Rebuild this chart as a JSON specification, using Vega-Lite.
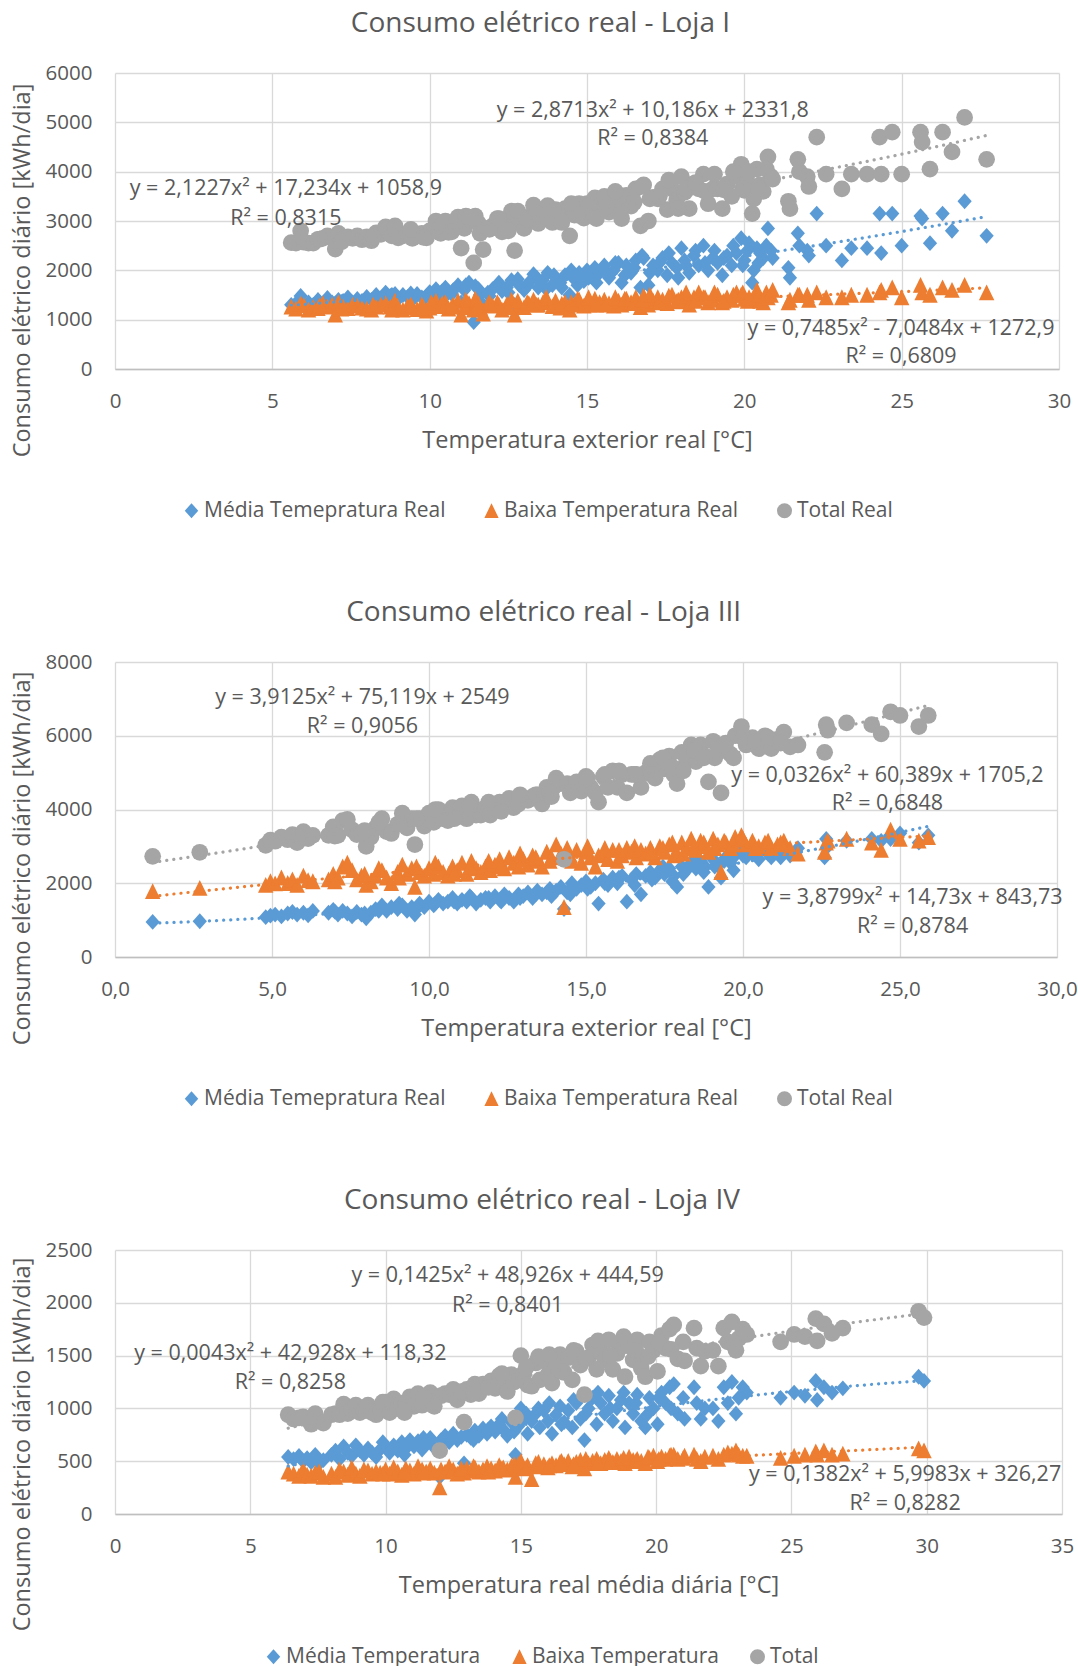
{
"$schema": "https://vega.github.io/schema/vega-lite/v6.json",
"background": "white",
"padding": {"left": 10, "top": 9, "right": 0, "bottom": 0},
"spacing": 293,
"bounds": "flush",
"datasets": {
"loja1": [
{"temp":5.6,"media":1300,"baixa":1260,"total":2560},{"temp":5.75,"media":1330,"baixa":1220,"total":2550},{"temp":5.9,"media":1480,"baixa":1320,"total":2800},{"temp":6.0,"media":1280,"baixa":1290,"total":2570},{"temp":6.15,"media":1350,"baixa":1200,"total":2550},{"temp":6.3,"media":1300,"baixa":1250,"total":2550},{"temp":6.45,"media":1400,"baixa":1230,"total":2630},{"temp":6.6,"media":1320,"baixa":1330,"total":2650},{"temp":6.75,"media":1440,"baixa":1260,"total":2700},{"temp":6.9,"media":1350,"baixa":1300,"total":2650},
{"temp":7.0,"media":1330,"baixa":1100,"total":2430},{"temp":7.1,"media":1400,"baixa":1350,"total":2750},{"temp":7.25,"media":1380,"baixa":1260,"total":2640},{"temp":7.4,"media":1450,"baixa":1230,"total":2680},{"temp":7.55,"media":1350,"baixa":1300,"total":2650},{"temp":7.7,"media":1420,"baixa":1280,"total":2700},{"temp":7.85,"media":1380,"baixa":1240,"total":2620},{"temp":8.0,"media":1460,"baixa":1220,"total":2680},{"temp":8.15,"media":1400,"baixa":1200,"total":2600},{"temp":8.3,"media":1500,"baixa":1260,"total":2760},
{"temp":8.45,"media":1430,"baixa":1300,"total":2730},{"temp":8.6,"media":1550,"baixa":1330,"total":2880},{"temp":8.75,"media":1480,"baixa":1260,"total":2740},{"temp":8.9,"media":1520,"baixa":1380,"total":2900},{"temp":9.0,"media":1420,"baixa":1240,"total":2660},{"temp":9.15,"media":1500,"baixa":1200,"total":2700},{"temp":9.3,"media":1460,"baixa":1280,"total":2740},{"temp":9.45,"media":1400,"baixa":1250,"total":2650},{"temp":9.6,"media":1520,"baixa":1210,"total":2730},{"temp":9.75,"media":1450,"baixa":1300,"total":2750},
{"temp":9.9,"media":1480,"baixa":1180,"total":2660},{"temp":10.0,"media":1560,"baixa":1240,"total":2800},{"temp":10.1,"media":1500,"baixa":1300,"total":2800},{"temp":10.2,"media":1620,"baixa":1380,"total":3000},{"temp":10.35,"media":1480,"baixa":1270,"total":2750},{"temp":10.5,"media":1650,"baixa":1350,"total":3000},{"temp":10.6,"media":1550,"baixa":1220,"total":2770},{"temp":10.75,"media":1600,"baixa":1300,"total":2900},{"temp":10.9,"media":1700,"baixa":1380,"total":3080},{"temp":11.0,"media":1350,"baixa":1100,"total":2450},
{"temp":11.1,"media":1600,"baixa":1250,"total":2850},{"temp":11.25,"media":1750,"baixa":1330,"total":3080},{"temp":11.4,"media":950,"baixa":1200,"total":2150},{"temp":11.45,"media":1680,"baixa":1420,"total":3100},{"temp":11.6,"media":1500,"baixa":1250,"total":2750},{"temp":11.7,"media":1300,"baixa":1120,"total":2420},{"temp":11.85,"media":1550,"baixa":1300,"total":2850},{"temp":12.0,"media":1620,"baixa":1280,"total":2900},{"temp":12.15,"media":1700,"baixa":1350,"total":3050},{"temp":12.3,"media":1580,"baixa":1200,"total":2780},
{"temp":12.45,"media":1650,"baixa":1310,"total":2960},{"temp":12.6,"media":1800,"baixa":1400,"total":3200},{"temp":12.7,"media":1300,"baixa":1100,"total":2400},{"temp":12.85,"media":1700,"baixa":1280,"total":2980},{"temp":13.0,"media":1600,"baixa":1250,"total":2850},{"temp":13.15,"media":1750,"baixa":1330,"total":3080},{"temp":13.3,"media":1920,"baixa":1400,"total":3320},{"temp":13.45,"media":1650,"baixa":1300,"total":2950},{"temp":13.6,"media":1800,"baixa":1350,"total":3150},{"temp":13.75,"media":1950,"baixa":1360,"total":3310},
{"temp":13.9,"media":1700,"baixa":1270,"total":2970},{"temp":14.0,"media":1850,"baixa":1380,"total":3230},{"temp":14.15,"media":1750,"baixa":1240,"total":2990},{"temp":14.3,"media":1900,"baixa":1350,"total":3250},{"temp":14.45,"media":1500,"baixa":1200,"total":2700},{"temp":14.6,"media":1820,"baixa":1300,"total":3120},{"temp":14.75,"media":1950,"baixa":1400,"total":3350},{"temp":14.9,"media":1780,"baixa":1280,"total":3060},{"temp":15.0,"media":2000,"baixa":1350,"total":3350},{"temp":15.1,"media":1880,"baixa":1300,"total":3180},
{"temp":15.25,"media":2050,"baixa":1420,"total":3470},{"temp":15.4,"media":1950,"baixa":1350,"total":3300},{"temp":15.55,"media":2100,"baixa":1400,"total":3500},{"temp":15.7,"media":1850,"baixa":1330,"total":3180},{"temp":15.85,"media":2000,"baixa":1280,"total":3280},{"temp":16.0,"media":2150,"baixa":1380,"total":3530},{"temp":16.1,"media":1750,"baixa":1300,"total":3050},{"temp":16.25,"media":2100,"baixa":1420,"total":3520},{"temp":16.4,"media":1950,"baixa":1350,"total":3300},{"temp":16.55,"media":2200,"baixa":1450,"total":3650},
{"temp":16.7,"media":1650,"baixa":1250,"total":2900},{"temp":16.8,"media":2250,"baixa":1480,"total":3730},{"temp":16.95,"media":1700,"baixa":1300,"total":3000},{"temp":17.1,"media":2100,"baixa":1380,"total":3480},{"temp":17.25,"media":2000,"baixa":1450,"total":3450},{"temp":17.4,"media":2250,"baixa":1400,"total":3650},{"temp":17.55,"media":1900,"baixa":1330,"total":3230},{"temp":17.7,"media":2150,"baixa":1500,"total":3650},{"temp":17.85,"media":2050,"baixa":1370,"total":3420},{"temp":18.0,"media":2450,"baixa":1450,"total":3900},
{"temp":18.1,"media":2200,"baixa":1380,"total":3580},{"temp":18.25,"media":1950,"baixa":1300,"total":3250},{"temp":18.4,"media":2300,"baixa":1450,"total":3750},{"temp":18.55,"media":2100,"baixa":1550,"total":3650},{"temp":18.7,"media":2500,"baixa":1450,"total":3950},{"temp":18.85,"media":2000,"baixa":1350,"total":3350},{"temp":19.0,"media":2250,"baixa":1400,"total":3650},{"temp":19.15,"media":2150,"baixa":1500,"total":3650},{"temp":19.3,"media":1900,"baixa":1350,"total":3250},{"temp":19.45,"media":2300,"baixa":1450,"total":3750},
{"temp":19.6,"media":2100,"baixa":1400,"total":3500},{"temp":19.75,"media":2350,"baixa":1550,"total":3900},{"temp":19.9,"media":2650,"baixa":1500,"total":4150},{"temp":20.0,"media":2200,"baixa":1420,"total":3620},{"temp":20.1,"media":2400,"baixa":1380,"total":3780},{"temp":20.25,"media":1750,"baixa":1400,"total":3150},{"temp":20.3,"media":2000,"baixa":1450,"total":3450},{"temp":20.4,"media":2450,"baixa":1600,"total":4050},{"temp":20.5,"media":2350,"baixa":1380,"total":3730},{"temp":20.6,"media":2250,"baixa":1350,"total":3600},
{"temp":20.75,"media":2850,"baixa":1450,"total":4300},{"temp":20.85,"media":2400,"baixa":1500,"total":3900},{"temp":21.4,"media":2050,"baixa":1350,"total":3400},{"temp":21.45,"media":1850,"baixa":1400,"total":3250},{"temp":21.7,"media":2750,"baixa":1500,"total":4250},{"temp":21.75,"media":2500,"baixa":1500,"total":4000},{"temp":22.0,"media":2400,"baixa":1500,"total":3900},{"temp":22.05,"media":2300,"baixa":1400,"total":3700},{"temp":22.3,"media":3150,"baixa":1550,"total":4700},{"temp":22.6,"media":2500,"baixa":1450,"total":3950},
{"temp":23.1,"media":2200,"baixa":1450,"total":3650},{"temp":23.4,"media":2450,"baixa":1500,"total":3950},{"temp":23.9,"media":2450,"baixa":1500,"total":3950},{"temp":24.3,"media":3150,"baixa":1550,"total":4700},{"temp":24.35,"media":2350,"baixa":1600,"total":3950},{"temp":24.7,"media":3150,"baixa":1650,"total":4800},{"temp":25.0,"media":2500,"baixa":1450,"total":3950},{"temp":25.6,"media":3100,"baixa":1700,"total":4800},{"temp":25.65,"media":3050,"baixa":1550,"total":4600},{"temp":25.9,"media":2550,"baixa":1500,"total":4050},
{"temp":26.3,"media":3150,"baixa":1650,"total":4800},{"temp":26.6,"media":2800,"baixa":1600,"total":4400},{"temp":27.0,"media":3400,"baixa":1700,"total":5100},{"temp":27.7,"media":2700,"baixa":1550,"total":4250},
{"temp":10.05,"media":1450,"baixa":1350,"total":2800},{"temp":10.4,"media":1580,"baixa":1330,"total":2910},{"temp":10.7,"media":1520,"baixa":1260,"total":2780},{"temp":11.15,"media":1700,"baixa":1400,"total":3100},{"temp":11.55,"media":1620,"baixa":1330,"total":2950},{"temp":11.9,"media":1480,"baixa":1350,"total":2830},{"temp":12.2,"media":1750,"baixa":1300,"total":3050},{"temp":12.5,"media":1550,"baixa":1250,"total":2800},{"temp":12.8,"media":1820,"baixa":1380,"total":3200},{"temp":13.1,"media":1680,"baixa":1350,"total":3030},
{"temp":13.4,"media":1850,"baixa":1300,"total":3150},{"temp":13.7,"media":1620,"baixa":1450,"total":3070},{"temp":13.95,"media":1900,"baixa":1300,"total":3200},{"temp":14.2,"media":1650,"baixa":1320,"total":2970},{"temp":14.5,"media":2000,"baixa":1350,"total":3350},{"temp":14.7,"media":1700,"baixa":1420,"total":3120},{"temp":15.05,"media":1850,"baixa":1450,"total":3300},{"temp":15.3,"media":1750,"baixa":1300,"total":3050},{"temp":15.6,"media":1980,"baixa":1300,"total":3280},{"temp":15.9,"media":2150,"baixa":1450,"total":3600},
{"temp":16.2,"media":1900,"baixa":1420,"total":3320},{"temp":16.5,"media":2050,"baixa":1330,"total":3380},{"temp":16.75,"media":2300,"baixa":1400,"total":3700},{"temp":17.0,"media":1950,"baixa":1500,"total":3450},{"temp":17.3,"media":2150,"baixa":1350,"total":3500},{"temp":17.6,"media":2350,"baixa":1480,"total":3830},{"temp":17.9,"media":1850,"baixa":1400,"total":3250},{"temp":18.15,"media":2100,"baixa":1550,"total":3650},{"temp":18.45,"media":2400,"baixa":1380,"total":3780},{"temp":18.75,"media":2150,"baixa":1450,"total":3600},
{"temp":19.05,"media":2400,"baixa":1550,"total":3950},{"temp":19.35,"media":2250,"baixa":1380,"total":3630},{"temp":19.65,"media":2500,"baixa":1500,"total":4000},{"temp":19.95,"media":2100,"baixa":1550,"total":3650},{"temp":20.15,"media":2550,"baixa":1450,"total":4000},{"temp":20.45,"media":2150,"baixa":1500,"total":3650},{"temp":20.7,"media":2500,"baixa":1550,"total":4050},{"temp":20.9,"media":2250,"baixa":1600,"total":3850},{"temp":8.2,"media":1380,"baixa":1300,"total":2680},{"temp":8.8,"media":1500,"baixa":1200,"total":2700},
{"temp":9.4,"media":1530,"baixa":1300,"total":2830},{"temp":9.8,"media":1420,"baixa":1250,"total":2670},{"temp":6.5,"media":1350,"baixa":1280,"total":2630},{"temp":7.2,"media":1360,"baixa":1220,"total":2580}
],
"loja3": [
{"temp":1.2,"media":950,"baixa":1780,"total":2730},{"temp":2.7,"media":970,"baixa":1870,"total":2840},{"temp":4.8,"media":1080,"baixa":1950,"total":3030},{"temp":4.95,"media":1120,"baixa":2050,"total":3170},{"temp":5.1,"media":1150,"baixa":1990,"total":3140},{"temp":5.3,"media":1100,"baixa":2150,"total":3250},{"temp":5.5,"media":1180,"baixa":2000,"total":3180},{"temp":5.65,"media":1220,"baixa":2100,"total":3320},{"temp":5.8,"media":1150,"baixa":1950,"total":3100},{"temp":6.0,"media":1200,"baixa":2200,"total":3400},
{"temp":6.15,"media":1130,"baixa":2080,"total":3210},{"temp":6.3,"media":1250,"baixa":2050,"total":3300},{"temp":6.8,"media":1200,"baixa":2100,"total":3300},{"temp":6.95,"media":1280,"baixa":2250,"total":3530},{"temp":7.1,"media":1150,"baixa":2150,"total":3300},{"temp":7.25,"media":1250,"baixa":2450,"total":3700},{"temp":7.4,"media":1180,"baixa":2550,"total":3730},{"temp":7.55,"media":1100,"baixa":2350,"total":3450},{"temp":7.7,"media":1220,"baixa":2100,"total":3320},{"temp":7.85,"media":1150,"baixa":2200,"total":3350},
{"temp":8.0,"media":1050,"baixa":1950,"total":3000},{"temp":8.15,"media":1200,"baixa":2050,"total":3250},{"temp":8.3,"media":1300,"baixa":2200,"total":3500},{"temp":8.5,"media":1400,"baixa":2350,"total":3750},{"temp":8.65,"media":1250,"baixa":2150,"total":3400},{"temp":8.8,"media":1350,"baixa":2000,"total":3350},{"temp":9.0,"media":1300,"baixa":2300,"total":3600},{"temp":9.15,"media":1400,"baixa":2500,"total":3900},{"temp":9.3,"media":1250,"baixa":2250,"total":3500},{"temp":9.45,"media":1350,"baixa":2400,"total":3750},
{"temp":9.55,"media":1150,"baixa":1900,"total":3050},{"temp":9.7,"media":1450,"baixa":2300,"total":3750},{"temp":9.85,"media":1350,"baixa":2200,"total":3550},{"temp":10.0,"media":1500,"baixa":2400,"total":3900},{"temp":10.15,"media":1400,"baixa":2250,"total":3650},{"temp":10.3,"media":1550,"baixa":2450,"total":4000},{"temp":10.45,"media":1450,"baixa":2300,"total":3750},{"temp":10.6,"media":1500,"baixa":2200,"total":3700},{"temp":10.75,"media":1600,"baixa":2450,"total":4050},{"temp":10.9,"media":1450,"baixa":2350,"total":3800},
{"temp":11.05,"media":1550,"baixa":2550,"total":4100},{"temp":11.2,"media":1500,"baixa":2250,"total":3750},{"temp":11.35,"media":1600,"baixa":2600,"total":4200},{"temp":11.5,"media":1450,"baixa":2400,"total":3850},{"temp":11.65,"media":1550,"baixa":2300,"total":3850},{"temp":11.8,"media":1600,"baixa":2450,"total":4050},{"temp":11.95,"media":1500,"baixa":2350,"total":3850},{"temp":12.1,"media":1650,"baixa":2500,"total":4150},{"temp":12.25,"media":1550,"baixa":2650,"total":4200},{"temp":12.4,"media":1700,"baixa":2400,"total":4100},
{"temp":12.55,"media":1600,"baixa":2700,"total":4300},{"temp":12.7,"media":1500,"baixa":2550,"total":4050},{"temp":12.85,"media":1700,"baixa":2450,"total":4150},{"temp":13.0,"media":1650,"baixa":2650,"total":4300},{"temp":13.15,"media":1750,"baixa":2500,"total":4250},{"temp":13.3,"media":1600,"baixa":2750,"total":4350},{"temp":13.45,"media":1800,"baixa":2600,"total":4400},{"temp":13.6,"media":1700,"baixa":2450,"total":4150},{"temp":13.75,"media":1750,"baixa":2850,"total":4600},{"temp":13.9,"media":1650,"baixa":2700,"total":4350},
{"temp":14.05,"media":1800,"baixa":3050,"total":4850},{"temp":14.2,"media":1900,"baixa":2800,"total":4700},{"temp":14.3,"media":1300,"baixa":1350,"total":2650},{"temp":14.4,"media":1750,"baixa":2950,"total":4700},{"temp":14.55,"media":2000,"baixa":2600,"total":4600},{"temp":14.7,"media":1850,"baixa":2900,"total":4750},{"temp":14.85,"media":1950,"baixa":2550,"total":4500},{"temp":15.0,"media":2050,"baixa":2850,"total":4900},{"temp":15.15,"media":1900,"baixa":2700,"total":4600},{"temp":15.3,"media":2000,"baixa":2450,"total":4450},
{"temp":15.4,"media":1450,"baixa":2750,"total":4200},{"temp":15.55,"media":2100,"baixa":2800,"total":4900},{"temp":15.7,"media":1950,"baixa":2650,"total":4600},{"temp":15.85,"media":2150,"baixa":2900,"total":5050},{"temp":16.0,"media":2000,"baixa":2600,"total":4600},{"temp":16.15,"media":2200,"baixa":2750,"total":4950},{"temp":16.3,"media":1500,"baixa":2950,"total":4450},{"temp":16.45,"media":2100,"baixa":2850,"total":4950},{"temp":16.6,"media":2250,"baixa":2700,"total":4950},{"temp":16.75,"media":1700,"baixa":2900,"total":4600},
{"temp":16.9,"media":2200,"baixa":2800,"total":5000},{"temp":17.05,"media":2300,"baixa":2950,"total":5250},{"temp":17.2,"media":2150,"baixa":2700,"total":4850},{"temp":17.35,"media":2350,"baixa":3000,"total":5350},{"temp":17.5,"media":2250,"baixa":2850,"total":5100},{"temp":17.65,"media":2400,"baixa":3050,"total":5450},{"temp":17.8,"media":2200,"baixa":2750,"total":4950},{"temp":17.9,"media":1900,"baixa":2800,"total":4700},{"temp":18.05,"media":2450,"baixa":3100,"total":5550},{"temp":18.2,"media":2350,"baixa":2950,"total":5300},
{"temp":18.35,"media":2550,"baixa":3200,"total":5750},{"temp":18.5,"media":2400,"baixa":2900,"total":5300},{"temp":18.65,"media":2600,"baixa":3150,"total":5750},{"temp":18.8,"media":2450,"baixa":3000,"total":5450},{"temp":18.9,"media":1900,"baixa":2850,"total":4750},{"temp":19.05,"media":2650,"baixa":3200,"total":5850},{"temp":19.2,"media":2500,"baixa":3050,"total":5550},{"temp":19.3,"media":2150,"baixa":2300,"total":4450},{"temp":19.45,"media":2700,"baixa":3100,"total":5800},{"temp":19.6,"media":2550,"baixa":2950,"total":5500},
{"temp":19.75,"media":2750,"baixa":3250,"total":6000},{"temp":19.95,"media":2950,"baixa":3300,"total":6250},{"temp":20.1,"media":2700,"baixa":3050,"total":5750},{"temp":20.3,"media":2800,"baixa":3150,"total":5950},{"temp":20.5,"media":2650,"baixa":3000,"total":5650},{"temp":20.7,"media":2900,"baixa":3100,"total":6000},{"temp":20.9,"media":2700,"baixa":2950,"total":5650},{"temp":21.1,"media":2850,"baixa":3050,"total":5900},{"temp":21.3,"media":2950,"baixa":3150,"total":6100},{"temp":21.5,"media":2750,"baixa":2950,"total":5700},
{"temp":21.75,"media":2950,"baixa":2800,"total":5750},{"temp":22.6,"media":2700,"baixa":2850,"total":5550},{"temp":22.65,"media":3200,"baixa":3100,"total":6300},{"temp":22.7,"media":3000,"baixa":3150,"total":6150},{"temp":23.3,"media":3150,"baixa":3200,"total":6350},{"temp":24.1,"media":3200,"baixa":3100,"total":6300},{"temp":24.4,"media":3150,"baixa":2900,"total":6050},{"temp":24.7,"media":3200,"baixa":3450,"total":6650},{"temp":25.0,"media":3350,"baixa":3200,"total":6550},{"temp":25.6,"media":3100,"baixa":3150,"total":6250},
{"temp":25.9,"media":3300,"baixa":3250,"total":6550},
{"temp":9.05,"media":1450,"baixa":2150,"total":3600},{"temp":9.6,"media":1300,"baixa":2450,"total":3750},{"temp":10.2,"media":1450,"baixa":2550,"total":4000},{"temp":10.8,"media":1500,"baixa":2250,"total":3750},{"temp":11.3,"media":1650,"baixa":2450,"total":4100},{"temp":11.9,"media":1600,"baixa":2600,"total":4200},{"temp":12.3,"media":1500,"baixa":2450,"total":3950},{"temp":12.9,"media":1600,"baixa":2800,"total":4400},{"temp":13.4,"media":1700,"baixa":2700,"total":4400},{"temp":13.85,"media":1850,"baixa":2600,"total":4450},
{"temp":14.5,"media":1700,"baixa":2750,"total":4450},{"temp":15.05,"media":1850,"baixa":3000,"total":4850},{"temp":15.6,"media":2000,"baixa":2950,"total":4950},{"temp":16.05,"media":2150,"baixa":2900,"total":5050},{"temp":16.55,"media":1950,"baixa":3000,"total":4950},{"temp":17.1,"media":2100,"baixa":2850,"total":4950},{"temp":17.45,"media":2450,"baixa":2950,"total":5400},{"temp":17.75,"media":2050,"baixa":3100,"total":5150},{"temp":18.1,"media":2250,"baixa":2800,"total":5050},{"temp":18.45,"media":2600,"baixa":3000,"total":5600},
{"temp":18.75,"media":2300,"baixa":3100,"total":5400},{"temp":19.1,"media":2450,"baixa":2950,"total":5400},{"temp":19.4,"media":2600,"baixa":3150,"total":5750},{"temp":19.7,"media":2350,"baixa":3050,"total":5400},{"temp":20.0,"media":2750,"baixa":3200,"total":5950},{"temp":20.4,"media":2900,"baixa":2950,"total":5850},{"temp":20.8,"media":2800,"baixa":3150,"total":5950},{"temp":21.2,"media":2700,"baixa":3100,"total":5800},{"temp":7.0,"media":1230,"baixa":2050,"total":3280},{"temp":7.95,"media":1180,"baixa":2250,"total":3430},
{"temp":8.4,"media":1250,"baixa":2400,"total":3650}
],
"loja4": [
{"temp":6.4,"media":540,"baixa":400,"total":940},{"temp":6.6,"media":520,"baixa":380,"total":900},{"temp":6.8,"media":550,"baixa":360,"total":910},{"temp":6.95,"media":500,"baixa":420,"total":920},{"temp":7.1,"media":530,"baixa":370,"total":900},{"temp":7.25,"media":490,"baixa":360,"total":850},{"temp":7.4,"media":560,"baixa":390,"total":950},{"temp":7.55,"media":480,"baixa":400,"total":880},{"temp":7.7,"media":510,"baixa":350,"total":860},{"temp":8.0,"media":560,"baixa":380,"total":940},
{"temp":8.15,"media":600,"baixa":350,"total":950},{"temp":8.3,"media":520,"baixa":420,"total":940},{"temp":8.45,"media":640,"baixa":400,"total":1040},{"temp":8.6,"media":580,"baixa":370,"total":950},{"temp":8.75,"media":550,"baixa":440,"total":990},{"temp":8.9,"media":650,"baixa":380,"total":1030},{"temp":9.05,"media":600,"baixa":360,"total":960},{"temp":9.2,"media":560,"baixa":420,"total":980},{"temp":9.35,"media":620,"baixa":410,"total":1030},{"temp":9.5,"media":580,"baixa":380,"total":960},
{"temp":9.65,"media":540,"baixa":400,"total":940},{"temp":9.8,"media":610,"baixa":390,"total":1000},{"temp":10.0,"media":640,"baixa":420,"total":1060},{"temp":10.15,"media":580,"baixa":380,"total":960},{"temp":10.3,"media":650,"baixa":440,"total":1090},{"temp":10.45,"media":600,"baixa":400,"total":1000},{"temp":10.6,"media":680,"baixa":370,"total":1050},{"temp":10.75,"media":620,"baixa":430,"total":1050},{"temp":10.9,"media":700,"baixa":410,"total":1110},{"temp":11.05,"media":640,"baixa":380,"total":1020},
{"temp":11.2,"media":690,"baixa":450,"total":1140},{"temp":11.35,"media":610,"baixa":420,"total":1030},{"temp":11.5,"media":660,"baixa":400,"total":1060},{"temp":11.65,"media":720,"baixa":430,"total":1150},{"temp":11.8,"media":630,"baixa":390,"total":1020},{"temp":12.0,"media":350,"baixa":250,"total":600},{"temp":12.05,"media":700,"baixa":420,"total":1120},{"temp":12.2,"media":740,"baixa":400,"total":1140},{"temp":12.35,"media":680,"baixa":450,"total":1130},{"temp":12.5,"media":760,"baixa":420,"total":1180},
{"temp":12.65,"media":700,"baixa":380,"total":1080},{"temp":12.9,"media":480,"baixa":390,"total":870},{"temp":13.0,"media":750,"baixa":430,"total":1180},{"temp":13.15,"media":720,"baixa":410,"total":1130},{"temp":13.3,"media":790,"baixa":440,"total":1230},{"temp":13.45,"media":740,"baixa":400,"total":1140},{"temp":13.6,"media":810,"baixa":420,"total":1230},{"temp":13.75,"media":760,"baixa":450,"total":1210},{"temp":13.9,"media":830,"baixa":430,"total":1260},{"temp":14.05,"media":780,"baixa":410,"total":1190},
{"temp":14.2,"media":850,"baixa":460,"total":1310},{"temp":14.35,"media":800,"baixa":440,"total":1240},{"temp":14.5,"media":740,"baixa":420,"total":1160},{"temp":14.65,"media":870,"baixa":450,"total":1320},{"temp":14.8,"media":560,"baixa":350,"total":910},{"temp":14.9,"media":830,"baixa":470,"total":1300},{"temp":15.0,"media":1000,"baixa":500,"total":1500},{"temp":15.1,"media":900,"baixa":430,"total":1330},{"temp":15.25,"media":760,"baixa":460,"total":1220},{"temp":15.4,"media":880,"baixa":330,"total":1210},
{"temp":15.55,"media":950,"baixa":480,"total":1430},{"temp":15.7,"media":820,"baixa":450,"total":1270},{"temp":15.85,"media":980,"baixa":470,"total":1450},{"temp":16.0,"media":880,"baixa":440,"total":1320},{"temp":16.15,"media":760,"baixa":480,"total":1240},{"temp":16.3,"media":940,"baixa":460,"total":1400},{"temp":16.45,"media":1020,"baixa":490,"total":1510},{"temp":16.6,"media":870,"baixa":470,"total":1340},{"temp":16.75,"media":980,"baixa":500,"total":1480},{"temp":16.9,"media":820,"baixa":450,"total":1270},
{"temp":17.05,"media":1050,"baixa":490,"total":1540},{"temp":17.2,"media":900,"baixa":510,"total":1410},{"temp":17.35,"media":700,"baixa":430,"total":1130},{"temp":17.5,"media":1000,"baixa":480,"total":1480},{"temp":17.65,"media":1100,"baixa":500,"total":1600},{"temp":17.8,"media":850,"baixa":520,"total":1370},{"temp":17.95,"media":1050,"baixa":480,"total":1530},{"temp":18.1,"media":950,"baixa":510,"total":1460},{"temp":18.25,"media":1120,"baixa":530,"total":1650},{"temp":18.4,"media":880,"baixa":490,"total":1370},
{"temp":18.55,"media":1000,"baixa":520,"total":1520},{"temp":18.7,"media":1080,"baixa":500,"total":1580},{"temp":18.85,"media":820,"baixa":480,"total":1300},{"temp":19.0,"media":1050,"baixa":540,"total":1590},{"temp":19.15,"media":950,"baixa":510,"total":1460},{"temp":19.3,"media":1130,"baixa":520,"total":1650},{"temp":19.45,"media":880,"baixa":500,"total":1380},{"temp":19.6,"media":820,"baixa":480,"total":1300},{"temp":19.75,"media":1100,"baixa":530,"total":1630},{"temp":19.9,"media":1000,"baixa":550,"total":1550},
{"temp":20.05,"media":850,"baixa":500,"total":1350},{"temp":20.2,"media":1150,"baixa":540,"total":1690},{"temp":20.35,"media":1050,"baixa":520,"total":1570},{"temp":20.5,"media":1200,"baixa":550,"total":1750},{"temp":20.65,"media":1230,"baixa":560,"total":1790},{"temp":20.8,"media":950,"baixa":520,"total":1470},{"temp":21.0,"media":1100,"baixa":530,"total":1630},{"temp":21.05,"media":900,"baixa":550,"total":1450},{"temp":21.4,"media":1200,"baixa":560,"total":1760},{"temp":21.5,"media":1050,"baixa":520,"total":1570},
{"temp":21.65,"media":900,"baixa":500,"total":1400},{"temp":21.8,"media":1000,"baixa":540,"total":1540},{"temp":22.1,"media":1000,"baixa":550,"total":1550},{"temp":22.3,"media":880,"baixa":520,"total":1400},{"temp":22.5,"media":1200,"baixa":560,"total":1760},{"temp":22.65,"media":1050,"baixa":580,"total":1630},{"temp":22.8,"media":1250,"baixa":570,"total":1820},{"temp":22.95,"media":950,"baixa":600,"total":1550},{"temp":23.05,"media":1100,"baixa":560,"total":1660},{"temp":23.2,"media":1200,"baixa":550,"total":1750},
{"temp":23.35,"media":1150,"baixa":550,"total":1700},{"temp":24.6,"media":1100,"baixa":530,"total":1630},{"temp":25.1,"media":1150,"baixa":550,"total":1700},{"temp":25.5,"media":1120,"baixa":560,"total":1680},{"temp":25.9,"media":1260,"baixa":590,"total":1850},{"temp":25.95,"media":1080,"baixa":560,"total":1640},{"temp":26.2,"media":1200,"baixa":600,"total":1800},{"temp":26.5,"media":1150,"baixa":560,"total":1710},{"temp":26.9,"media":1190,"baixa":570,"total":1760},{"temp":29.7,"media":1300,"baixa":620,"total":1920},
{"temp":29.9,"media":1260,"baixa":600,"total":1860},
{"temp":12.8,"media":730,"baixa":430,"total":1160},{"temp":13.25,"media":700,"baixa":450,"total":1150},{"temp":13.8,"media":800,"baixa":400,"total":1200},{"temp":14.3,"media":900,"baixa":430,"total":1330},{"temp":14.75,"media":780,"baixa":470,"total":1250},{"temp":15.2,"media":950,"baixa":440,"total":1390},{"temp":15.65,"media":1000,"baixa":490,"total":1490},{"temp":16.05,"media":1050,"baixa":460,"total":1510},{"temp":16.5,"media":850,"baixa":500,"total":1350},{"temp":16.95,"media":1080,"baixa":470,"total":1550},
{"temp":17.4,"media":950,"baixa":520,"total":1470},{"temp":17.85,"media":1150,"baixa":490,"total":1640},{"temp":18.3,"media":1000,"baixa":500,"total":1500},{"temp":18.8,"media":1150,"baixa":530,"total":1680},{"temp":19.25,"media":1050,"baixa":500,"total":1550},{"temp":19.7,"media":950,"baixa":540,"total":1490},{"temp":20.1,"media":1100,"baixa":520,"total":1620},{"temp":20.55,"media":1000,"baixa":560,"total":1560},{"temp":10.7,"media":560,"baixa":400,"total":960},{"temp":11.4,"media":720,"baixa":390,"total":1110},
{"temp":9.9,"media":680,"baixa":380,"total":1060}
]
},
"vconcat": [
{
"title": {"text": "Consumo elétrico real - Loja I"},
"width": 944, "height": 296,
"data": {"name": "loja1"},
"layer": [
{
"encoding": {
"x": {"field": "temp", "type": "quantitative", "scale": {"domain": [0, 30], "nice": false, "zero": false}, "axis": {"title": "Temperatura exterior real [°C]", "values": [0,5,10,15,20,25,30]}},
"y": {"field": "valor", "type": "quantitative", "scale": {"domain": [0, 6000], "nice": false}, "axis": {"title": "Consumo elétrico diário [kWh/dia]", "titleY": 197, "values": [0,1000,2000,3000,4000,5000,6000], "format": "d"}}
},
"layer": [
{"transform": [{"fold": ["media"], "as": ["serie", "valor"]}], "mark": {"type": "point", "filled": true, "opacity": 1, "size": 250},
 "encoding": {"color": {"field": "serie", "type": "nominal", "scale": {"domain": ["media","baixa","total"], "range": ["#5B9BD5","#ED7D31","#A5A5A5"]}, "legend": {"orient": "none", "legendX": 66, "legendY": 427, "direction": "horizontal", "title": null, "columnPadding": 35, "labelExpr": "datum.value == 'media' ? 'Média Temepratura Real' : datum.value == 'baixa' ? 'Baixa Temperatura Real' : 'Total Real'"}},
  "shape": {"field": "serie", "type": "nominal", "scale": {"domain": ["media","baixa","total"], "range": ["M0,-1L0.9,0L0,1L-0.9,0Z","M0,-1L0.95,0.95L-0.95,0.95Z","circle"]}, "legend": {"orient": "none", "legendX": 66, "legendY": 427, "direction": "horizontal", "title": null, "columnPadding": 35, "labelExpr": "datum.value == 'media' ? 'Média Temepratura Real' : datum.value == 'baixa' ? 'Baixa Temperatura Real' : 'Total Real'"}}}},
{"transform": [{"fold": ["baixa"], "as": ["serie", "valor"]}], "mark": {"type": "point", "filled": true, "opacity": 1, "size": 265},
 "encoding": {"color": {"field": "serie", "type": "nominal"}, "shape": {"field": "serie", "type": "nominal"}}},
{"transform": [{"fold": ["total"], "as": ["serie", "valor"]}], "mark": {"type": "point", "filled": true, "opacity": 1, "size": 280},
 "encoding": {"color": {"field": "serie", "type": "nominal"}, "shape": {"field": "serie", "type": "nominal"}}},
{"transform": [{"fold": ["media","baixa","total"], "as": ["serie", "valor"]}, {"regression": "valor", "on": "temp", "groupby": ["serie"], "method": "poly", "order": 2}],
 "mark": {"type": "line", "strokeWidth": 3.2, "strokeDash": [0.1, 7], "strokeCap": "round"},
 "encoding": {"stroke": {"field": "serie", "type": "nominal", "scale": {"domain": ["media","baixa","total"], "range": ["#5B9BD5","#ED7D31","#A5A5A5"]}, "legend": null}}}
]
},
{"data": {"values": [{"k": 1}]}, "mark": {"type": "text"}, "encoding": {"text": {"value": "y = 2,8713x² + 10,186x + 2331,8"}, "x": {"datum": 17.09, "type": "quantitative"}, "y": {"datum": 5230, "type": "quantitative"}}},
{"data": {"values": [{"k": 1}]}, "mark": {"type": "text"}, "encoding": {"text": {"value": "R² = 0,8384"}, "x": {"datum": 17.09, "type": "quantitative"}, "y": {"datum": 4668, "type": "quantitative"}}},
{"data": {"values": [{"k": 1}]}, "mark": {"type": "text"}, "encoding": {"text": {"value": "y = 2,1227x² + 17,234x + 1058,9"}, "x": {"datum": 5.43, "type": "quantitative"}, "y": {"datum": 3643, "type": "quantitative"}}},
{"data": {"values": [{"k": 1}]}, "mark": {"type": "text"}, "encoding": {"text": {"value": "R² = 0,8315"}, "x": {"datum": 5.43, "type": "quantitative"}, "y": {"datum": 3035, "type": "quantitative"}}},
{"data": {"values": [{"k": 1}]}, "mark": {"type": "text"}, "encoding": {"text": {"value": "y = 0,7485x² - 7,0484x + 1272,9"}, "x": {"datum": 24.98, "type": "quantitative"}, "y": {"datum": 811, "type": "quantitative"}}},
{"data": {"values": [{"k": 1}]}, "mark": {"type": "text"}, "encoding": {"text": {"value": "R² = 0,6809"}, "x": {"datum": 24.98, "type": "quantitative"}, "y": {"datum": 243, "type": "quantitative"}}}
]
},
{
"title": {"text": "Consumo elétrico real - Loja III"},
"width": 942, "height": 295,
"data": {"name": "loja3"},
"layer": [
{
"encoding": {
"x": {"field": "temp", "type": "quantitative", "scale": {"domain": [0, 30], "nice": false, "zero": false}, "axis": {"title": "Temperatura exterior real [°C]", "values": [0,5,10,15,20,25,30], "labelExpr": "replace(format(datum.value, '.1f'), '.', ',')"}},
"y": {"field": "valor", "type": "quantitative", "scale": {"domain": [0, 8000], "nice": false}, "axis": {"title": "Consumo elétrico diário [kWh/dia]", "titleY": 196, "values": [0,2000,4000,6000,8000], "format": "d"}}
},
"layer": [
{"transform": [{"fold": ["media"], "as": ["serie", "valor"]}], "mark": {"type": "point", "filled": true, "opacity": 1, "size": 250},
 "encoding": {"color": {"field": "serie", "type": "nominal", "scale": {"domain": ["media","baixa","total"], "range": ["#5B9BD5","#ED7D31","#A5A5A5"]}, "legend": {"orient": "none", "legendX": 66, "legendY": 426, "direction": "horizontal", "title": null, "columnPadding": 35, "labelExpr": "datum.value == 'media' ? 'Média Temepratura Real' : datum.value == 'baixa' ? 'Baixa Temperatura Real' : 'Total Real'"}},
  "shape": {"field": "serie", "type": "nominal", "scale": {"domain": ["media","baixa","total"], "range": ["M0,-1L0.9,0L0,1L-0.9,0Z","M0,-1L0.95,0.95L-0.95,0.95Z","circle"]}, "legend": {"orient": "none", "legendX": 66, "legendY": 426, "direction": "horizontal", "title": null, "columnPadding": 35, "labelExpr": "datum.value == 'media' ? 'Média Temepratura Real' : datum.value == 'baixa' ? 'Baixa Temperatura Real' : 'Total Real'"}}}},
{"transform": [{"fold": ["baixa"], "as": ["serie", "valor"]}], "mark": {"type": "point", "filled": true, "opacity": 1, "size": 265},
 "encoding": {"color": {"field": "serie", "type": "nominal"}, "shape": {"field": "serie", "type": "nominal"}}},
{"transform": [{"fold": ["total"], "as": ["serie", "valor"]}], "mark": {"type": "point", "filled": true, "opacity": 1, "size": 280},
 "encoding": {"color": {"field": "serie", "type": "nominal"}, "shape": {"field": "serie", "type": "nominal"}}},
{"transform": [{"fold": ["media","baixa","total"], "as": ["serie", "valor"]}, {"regression": "valor", "on": "temp", "groupby": ["serie"], "method": "poly", "order": 2}],
 "mark": {"type": "line", "strokeWidth": 3.2, "strokeDash": [0.1, 7], "strokeCap": "round"},
 "encoding": {"stroke": {"field": "serie", "type": "nominal", "scale": {"domain": ["media","baixa","total"], "range": ["#5B9BD5","#ED7D31","#A5A5A5"]}, "legend": null}}}
]
},
{"data": {"values": [{"k": 1}]}, "mark": {"type": "text"}, "encoding": {"text": {"value": "y = 3,9125x² + 75,119x + 2549"}, "x": {"datum": 7.88, "type": "quantitative"}, "y": {"datum": 7032, "type": "quantitative"}}},
{"data": {"values": [{"k": 1}]}, "mark": {"type": "text"}, "encoding": {"text": {"value": "R² = 0,9056"}, "x": {"datum": 7.88, "type": "quantitative"}, "y": {"datum": 6245, "type": "quantitative"}}},
{"data": {"values": [{"k": 1}]}, "mark": {"type": "text"}, "encoding": {"text": {"value": "y = 0,0326x² + 60,389x + 1705,2"}, "x": {"datum": 24.6, "type": "quantitative"}, "y": {"datum": 4908, "type": "quantitative"}}},
{"data": {"values": [{"k": 1}]}, "mark": {"type": "text"}, "encoding": {"text": {"value": "R² = 0,6848"}, "x": {"datum": 24.6, "type": "quantitative"}, "y": {"datum": 4141, "type": "quantitative"}}},
{"data": {"values": [{"k": 1}]}, "mark": {"type": "text"}, "encoding": {"text": {"value": "y = 3,8799x² + 14,73x + 843,73"}, "x": {"datum": 25.4, "type": "quantitative"}, "y": {"datum": 1600, "type": "quantitative"}}},
{"data": {"values": [{"k": 1}]}, "mark": {"type": "text"}, "encoding": {"text": {"value": "R² = 0,8784"}, "x": {"datum": 25.4, "type": "quantitative"}, "y": {"datum": 822, "type": "quantitative"}}}
]
},
{
"title": {"text": "Consumo elétrico real - Loja IV"},
"width": 947, "height": 264,
"data": {"name": "loja4"},
"layer": [
{
"encoding": {
"x": {"field": "temp", "type": "quantitative", "scale": {"domain": [0, 35], "nice": false, "zero": false}, "axis": {"title": "Temperatura real média diária [°C]", "values": [0,5,10,15,20,25,30,35]}},
"y": {"field": "valor", "type": "quantitative", "scale": {"domain": [0, 2500], "nice": false}, "axis": {"title": "Consumo elétrico diário [kWh/dia]", "titleY": 194, "values": [0,500,1000,1500,2000,2500], "format": "d"}}
},
"layer": [
{"transform": [{"fold": ["media"], "as": ["serie", "valor"]}], "mark": {"type": "point", "filled": true, "opacity": 1, "size": 250},
 "encoding": {"color": {"field": "serie", "type": "nominal", "scale": {"domain": ["media","baixa","total"], "range": ["#5B9BD5","#ED7D31","#A5A5A5"]}, "legend": {"orient": "none", "legendX": 148, "legendY": 396, "direction": "horizontal", "title": null, "columnPadding": 28, "labelExpr": "datum.value == 'media' ? 'Média Temperatura' : datum.value == 'baixa' ? 'Baixa Temperatura' : 'Total'"}},
  "shape": {"field": "serie", "type": "nominal", "scale": {"domain": ["media","baixa","total"], "range": ["M0,-1L0.9,0L0,1L-0.9,0Z","M0,-1L0.95,0.95L-0.95,0.95Z","circle"]}, "legend": {"orient": "none", "legendX": 148, "legendY": 396, "direction": "horizontal", "title": null, "columnPadding": 28, "labelExpr": "datum.value == 'media' ? 'Média Temperatura' : datum.value == 'baixa' ? 'Baixa Temperatura' : 'Total'"}}}},
{"transform": [{"fold": ["baixa"], "as": ["serie", "valor"]}], "mark": {"type": "point", "filled": true, "opacity": 1, "size": 265},
 "encoding": {"color": {"field": "serie", "type": "nominal"}, "shape": {"field": "serie", "type": "nominal"}}},
{"transform": [{"fold": ["total"], "as": ["serie", "valor"]}], "mark": {"type": "point", "filled": true, "opacity": 1, "size": 280},
 "encoding": {"color": {"field": "serie", "type": "nominal"}, "shape": {"field": "serie", "type": "nominal"}}},
{"transform": [{"fold": ["media","baixa","total"], "as": ["serie", "valor"]}, {"regression": "valor", "on": "temp", "groupby": ["serie"], "method": "poly", "order": 2}],
 "mark": {"type": "line", "strokeWidth": 3.2, "strokeDash": [0.1, 7], "strokeCap": "round"},
 "encoding": {"stroke": {"field": "serie", "type": "nominal", "scale": {"domain": ["media","baixa","total"], "range": ["#5B9BD5","#ED7D31","#A5A5A5"]}, "legend": null}}}
]
},
{"data": {"values": [{"k": 1}]}, "mark": {"type": "text"}, "encoding": {"text": {"value": "y = 0,1425x² + 48,926x + 444,59"}, "x": {"datum": 14.51, "type": "quantitative"}, "y": {"datum": 2254, "type": "quantitative"}}},
{"data": {"values": [{"k": 1}]}, "mark": {"type": "text"}, "encoding": {"text": {"value": "R² = 0,8401"}, "x": {"datum": 14.51, "type": "quantitative"}, "y": {"datum": 1970, "type": "quantitative"}}},
{"data": {"values": [{"k": 1}]}, "mark": {"type": "text"}, "encoding": {"text": {"value": "y = 0,0043x² + 42,928x + 118,32"}, "x": {"datum": 6.48, "type": "quantitative"}, "y": {"datum": 1518, "type": "quantitative"}}},
{"data": {"values": [{"k": 1}]}, "mark": {"type": "text"}, "encoding": {"text": {"value": "R² = 0,8258"}, "x": {"datum": 6.48, "type": "quantitative"}, "y": {"datum": 1243, "type": "quantitative"}}},
{"data": {"values": [{"k": 1}]}, "mark": {"type": "text"}, "encoding": {"text": {"value": "y = 0,1382x² + 5,9983x + 326,27"}, "x": {"datum": 29.2, "type": "quantitative"}, "y": {"datum": 366, "type": "quantitative"}}},
{"data": {"values": [{"k": 1}]}, "mark": {"type": "text"}, "encoding": {"text": {"value": "R² = 0,8282"}, "x": {"datum": 29.2, "type": "quantitative"}, "y": {"datum": 92, "type": "quantitative"}}}
]
}
],
"resolve": {"scale": {"color": "independent", "shape": "independent", "stroke": "independent"}, "legend": {"color": "independent", "shape": "independent"}},
"config": {
"font": "Open Sans",
"view": {"stroke": null},
"title": {"font": "Open Sans", "fontSize": 28, "fontWeight": "normal", "color": "#595959", "anchor": "middle", "frame": "bounds", "baseline": "alphabetic", "offset": 25.5},
"text": {"font": "Open Sans", "fontSize": 21.5, "color": "#595959", "align": "center", "baseline": "middle"},
"axis": {"labelFont": "Open Sans", "labelFontSize": 20.5, "labelColor": "#595959", "titleFont": "Open Sans", "titleFontSize": 23.5, "titleFontWeight": "normal", "titleColor": "#595959", "gridColor": "#D9D9D9", "gridWidth": 1.3, "ticks": false, "tickSize": 0, "domain": false, "labelOverlap": false},
"axisX": {"domain": true, "domainColor": "#BFBFBF", "domainWidth": 1.3, "labelPadding": 22, "titlePadding": 17, "labelFlush": false},
"axisY": {"labelPadding": 23, "titlePadding": 11},
"legend": {"labelFont": "Open Sans", "labelFontSize": 21, "labelColor": "#595959", "labelLimit": 600, "symbolSize": 225, "labelOffset": 2, "symbolStrokeWidth": 0, "symbolOpacity": 1, "padding": 0, "rowPadding": 0}
}
}
